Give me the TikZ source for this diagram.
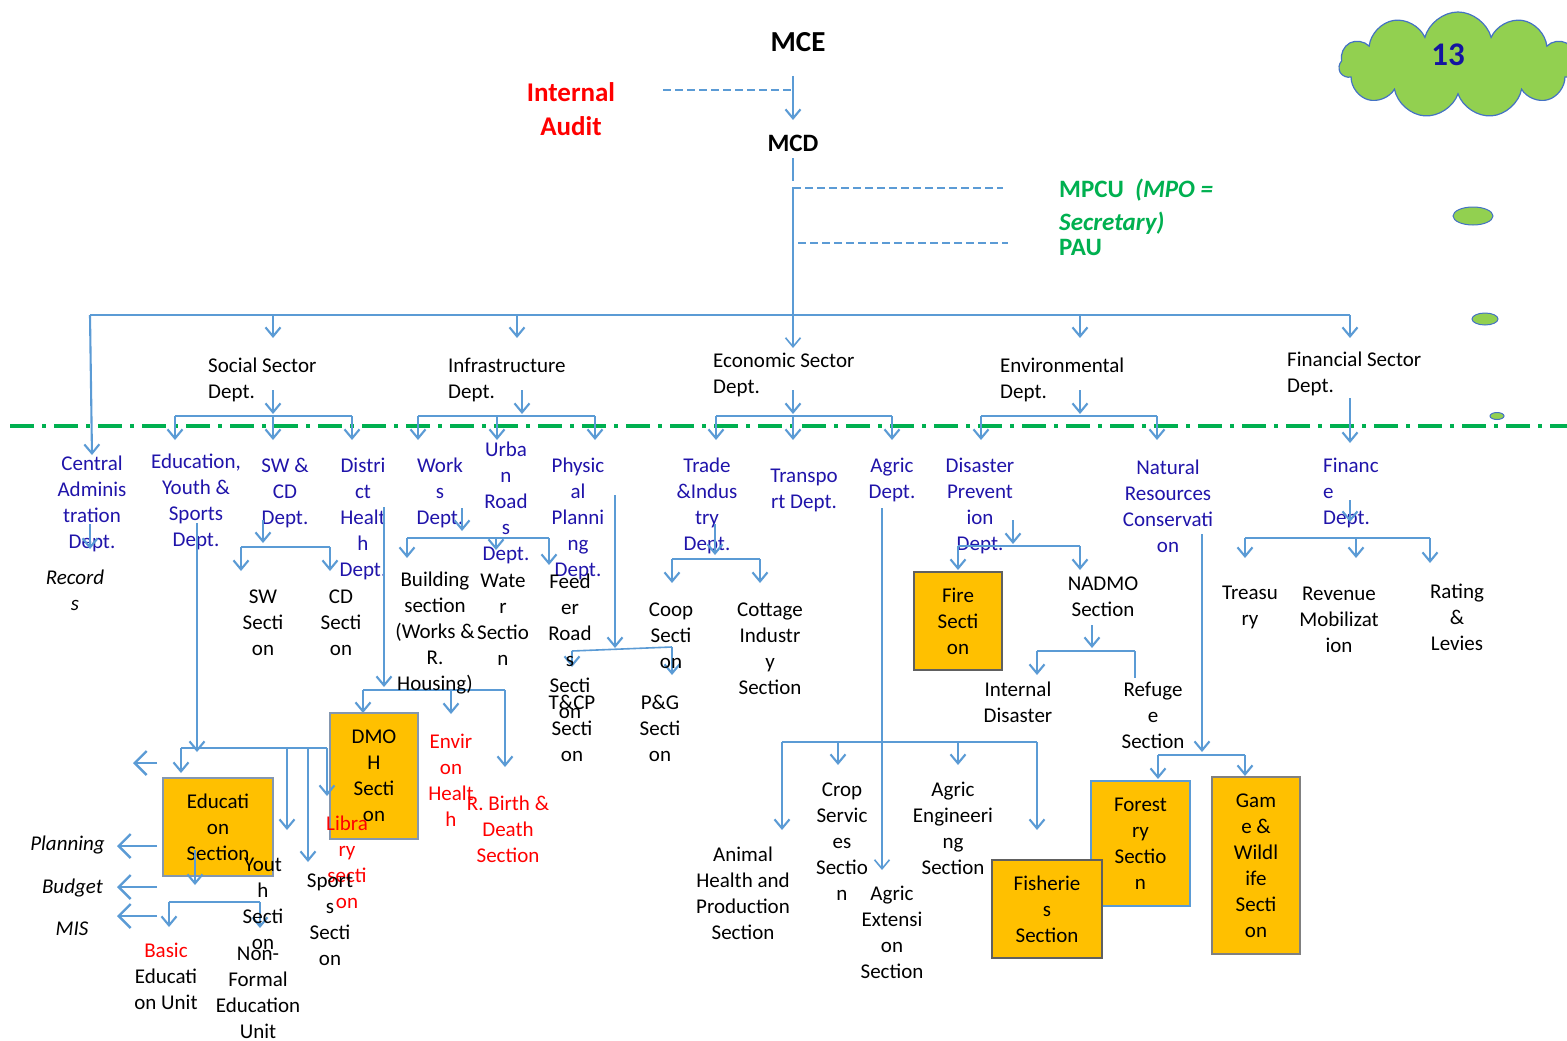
\documentclass[tikz,border=0pt]{standalone}
\usepackage{fontspec}
\setmainfont{Carlito}
\usetikzlibrary{arrows.meta,shapes.geometric,shapes.symbols}
\definecolor{lb}{RGB}{91,155,213}
\definecolor{dblue}{RGB}{32,20,170}
\definecolor{grn}{RGB}{0,176,80}
\definecolor{orng}{RGB}{255,192,0}
\definecolor{gborder}{RGB}{128,128,128}
\definecolor{dgborder}{RGB}{96,96,96}
\definecolor{bgborder}{RGB}{132,151,176}
\definecolor{cloudg}{RGB}{146,208,80}
\definecolor{cloudb}{RGB}{68,114,196}
\definecolor{navy}{RGB}{20,20,160}
\newcommand\fa{\fontsize{21}{26}\selectfont}
\tikzset{
  t/.style={inner sep=0pt, align=center, font=\fa, yshift=-2pt},
  tb/.style={t, text=dblue},
  tr/.style={t, text=red},
  ti/.style={inner sep=0pt, align=center, font=\fa\itshape, yshift=-2pt},
  box/.style={inner sep=0pt, align=center, font=\fa, fill=orng, line width=2pt},
  ln/.style={draw=lb, line width=1.6pt},
  ar/.style={draw=lb, line width=2.1pt, -{Straight Barb[length=9pt,width=15pt]}},
  bigar/.style={draw=lb, line width=2.4pt, -{Straight Barb[length=12pt,width=24pt]}},
  dsh/.style={draw=lb, line width=2.5pt, dash pattern=on 8pt off 4pt},
  gl/.style={draw=grn, line width=4pt, dash pattern=on 24pt off 8pt on 4pt off 8pt},
  blob/.style={ellipse, fill=cloudg, draw=cloudb, line width=1pt, inner sep=0pt}
}
\begin{document}
\begin{tikzpicture}[x=1pt,y=-1pt]
\useasboundingbox (0,0) rectangle (1567,1041);
\fill[white] (0,0) rectangle (1567,1041);

% ---------- coordinates ----------
\foreach \n/\x/\y in {
 iaE/663/90, iaJ/793/90, mceS/793/76, mcdN/793/120, mcdS/793/158, mcdS2/793/181,
 tr0/793/187, ecoN/793/348, mpA/793/188, mpB/1003/188, paA/798/243, paB/1008/243,
 bL/90/315, bR/1350/315, b1/273/315, b2/517/315, b3/1080/315,
 caN/92/455, socN/273/338, infN/517/338, envN/1080/338, finN/1350/338,
 socS/273/390, socJ/273/414, sbL/175/416, sbR/352/416, sbM/273/416, eduN/175/440, swcdN/273/440, dhN/352/440,
 infS/522/390, infJ/522/414, ibL/418/416, ibR/595/416, ibM/497/416, worksN/418/440, urbN/497/440, physN/595/440,
 ecoS/793/390, ecoJ/793/414, ebL/716/416, ebR/892/416, ebM/793/416, tradeN/716/440, transN/793/440, agrN/892/440,
 envS/1080/390, envJ/1080/414, vbL/981/416, vbR/1157/416, disN/981/440, natN/1157/440,
 finS/1350/398, finJ/1350/443,
 caA/90/524, caB/90/549,
 swA/263/520, swB/263/543, swL/241/547, swR/330/547, swsN/241/571, cdsN/330/571,
 dhA/384/507, dhB/384/687, dhL/363/690, dhR/505/690, dhM/451/690, dmohN/363/713, envhN/451/714, birthN/505/767,
 wkA/462/508, wkB/462/531, wkL/407/538, wkR/549/538, wkM/496/538, bldN/407/558, watN/496/550, fdrN/549/565,
 phA/615/495, phB/615/648, phL/572/651, phR/672/647, tcpN/572/667, pgN/672/675,
 tdA/715/524, tdB/715/555, tdL/672/559, tdR/760/559, coopN/672/583, cottN/760/583,
 agA/882/508, agB/882/870, agL/782/742, agR/1037/742, agM/838/742, agE/958/742,
 animN/782/830, cropN/838/765, engN/958/765, fishN/1037/830,
 dsA/1013/520, dsB/1013/544, dsL/958/546, dsR/1080/546, fireN/958/570, nadN/1080/570,
 ndA/1092/625, ndB/1092/648, ndL/1037/651, ndR/1135/651, intN/1037/675, refE/1135/678,
 nrA/1202/534, nrB/1202/752, nrL/1158/755, nrR/1245/755, forN/1158/779, gamN/1245/776,
 fnA/1350/500, fnB/1350/522, fnL/1245/538, fnR/1430/538, fnM/1356/538, treN/1245/558, revN/1356/558, ratN/1430/563,
 edA/197/523, edB/197/752, edL/181/748, edR/327/748, edM/287/748, edM2/308/748,
 eboxN/181/773, youN/287/830, spoN/308/862, libN/327/796,
 laA/157/763, laB/133/763, plA/157/846, plB/117/846, buA/157/887, buB/117/887, miA/157/916, miB/117/916,
 esA/195/850, esB/195/885, esL/169/902, esR/260/902, basN/169/927, nfN/260/928}
 {\coordinate (\n) at (\x,\y);}

% ---------- green dash-dot divider ----------
\coordinate (gA) at (10,426); \coordinate (gB) at (1567,426);
\draw[gl] (gA) -- (gB);

% ---------- cloud and blobs ----------
\node[cloud, cloud puffs=11, aspect=2.3, fill=cloudg, draw=cloudb, line width=1.2pt,
      minimum width=238pt, minimum height=106pt, inner sep=0pt] (cloud) at (1458,65) {};
\node[inner sep=0pt, font=\fontsize{33}{36}\selectfont\bfseries, text=navy] (n13) at (1448,55) {13};
\node[blob, minimum width=40pt, minimum height=18pt] (blob1) at (1473,216) {};
\node[blob, minimum width=26pt, minimum height=12pt] (blob2) at (1485,319) {};
\node[blob, minimum width=14pt, minimum height=7pt] (blob3) at (1497,416) {};

% ---------- top ----------
\node[inner sep=0pt, font=\fontsize{29}{32}\selectfont\bfseries] (mce) at (798,42) {MCE};
\node[inner sep=0pt, align=center, text=red, font=\fontsize{27}{34}\selectfont\bfseries] (audit) at (571,109) {Internal\\Audit};
\node[inner sep=0pt, font=\fontsize{25}{28}\selectfont\bfseries] (mcd) at (793,143) {MCD};
\node[inner sep=0pt, anchor=west, text=grn, font=\fontsize{25}{28}\selectfont\bfseries] (mpcu) at (1059,190) {MPCU \ \textit{(MPO =}};
\node[inner sep=0pt, anchor=west, text=grn, font=\fontsize{25}{28}\selectfont\bfseries\itshape] (secr) at (1059,223) {Secretary)};
\node[inner sep=0pt, anchor=west, text=grn, font=\fontsize{25}{28}\selectfont\bfseries] (pau) at (1059,247) {PAU};

\draw[dsh] (iaE) -- (iaJ);
\draw[ar] (mceS) -- (mcdN);
\draw[draw=lb, line width=1.4pt] (mcdS) -- (mcdS2);
\draw[ar, line width=1.6pt] (tr0) -- (ecoN);
\draw[dsh] (mpA) -- (mpB);
\draw[dsh] (paA) -- (paB);

% ---------- main bar ----------
\draw[ln] (bL) -- (bR);
\draw[ar] (bL) -- (caN);
\draw[ar] (b1) -- (socN);
\draw[ar] (b2) -- (infN);
\draw[ar] (b3) -- (envN);
\draw[ar] (bR) -- (finN);

% ---------- level 1 ----------
\node[t, anchor=west, align=left] (soc) at (208,378) {Social Sector\\Dept.};
\node[t, anchor=west, align=left] (inf) at (448,378) {Infrastructure\\Dept.};
\node[t, anchor=west, align=left] (eco) at (713,373) {Economic Sector\\Dept.};
\node[t, anchor=west, align=left] (env) at (1000,378) {Environmental\\Dept.};
\node[t, anchor=west, align=left] (fin) at (1287,372) {Financial Sector\\Dept.};

\draw[ar] (socS) -- (socJ); \draw[ln] (sbL) -- (sbR);
\draw[ar] (sbL) -- (eduN); \draw[ar] (sbM) -- (swcdN); \draw[ar] (sbR) -- (dhN);
\draw[ar] (infS) -- (infJ); \draw[ln] (ibL) -- (ibR);
\draw[ar] (ibL) -- (worksN); \draw[ar] (ibM) -- (urbN); \draw[ar] (ibR) -- (physN);
\draw[ar] (ecoS) -- (ecoJ); \draw[ln] (ebL) -- (ebR);
\draw[ar] (ebL) -- (tradeN); \draw[ar] (ebM) -- (transN); \draw[ar] (ebR) -- (agrN);
\draw[ar] (envS) -- (envJ); \draw[ln] (vbL) -- (vbR);
\draw[ar] (vbL) -- (disN); \draw[ar] (vbR) -- (natN);
\draw[ar] (finS) -- (finJ);

% ---------- level 2 (departments) ----------
\node[tb] (cadmin) at (92,502) {Central\\Adminis\\tration\\Dept.};
\node[ti] (records) at (75,588) {Record\\s};
\node[tb] (edu) at (196,500) {Education,\\Youth \&\\Sports\\Dept.};
\node[tb] (swcd) at (285,491) {SW \&\\CD\\Dept.};
\node[tb] (dh) at (363,517) {Distri\\ct\\Healt\\h\\Dept.};
\node[tb] (works) at (440,491) {Work\\s\\Dept.};
\node[tb] (urban) at (506,501) {Urba\\n\\Road\\s\\Dept.};
\node[tb] (phys) at (578,517) {Physic\\al\\Planni\\ng\\Dept.};
\node[tb] (trade) at (707,504) {Trade\\\&Indus\\try\\Dept.};
\node[tb] (transp) at (804,488) {Transpo\\rt Dept.};
\node[tb] (agric) at (892,478) {Agric\\Dept.};
\node[tb] (disaster) at (980,504) {Disaster\\Prevent\\ion\\Dept.};
\node[tb] (natres) at (1168,504) {Natural\\Resources\\Conservati\\on};
\node[tb, anchor=west, align=left] (finance) at (1323,491) {Financ\\e\\Dept.};

% ---------- level 2 -> 3 connectors ----------
\draw[ar] (caA) -- (caB);
\draw[ar] (swA) -- (swB); \draw[ln] (swL) -- (swR);
\draw[ar] (swL) -- (swsN); \draw[ar] (swR) -- (cdsN);
\draw[ar] (dhA) -- (dhB); \draw[ln] (dhL) -- (dhR);
\draw[ar] (dhL) -- (dmohN); \draw[ar] (dhM) -- (envhN); \draw[ar] (dhR) -- (birthN);
\draw[ar] (wkA) -- (wkB); \draw[ln] (wkL) -- (wkR);
\draw[ar] (wkL) -- (bldN); \draw[ar] (wkM) -- (watN); \draw[ar] (wkR) -- (fdrN);
\draw[ar] (phA) -- (phB); \draw[ln] (phL) -- (phR);
\draw[ar] (phL) -- (tcpN); \draw[ar] (phR) -- (pgN);
\draw[ar] (tdA) -- (tdB); \draw[ln] (tdL) -- (tdR);
\draw[ar] (tdL) -- (coopN); \draw[ar] (tdR) -- (cottN);
\draw[ar, line width=1.6pt] (agA) -- (agB); \draw[ln] (agL) -- (agR);
\draw[ar] (agL) -- (animN); \draw[ar] (agM) -- (cropN); \draw[ar] (agE) -- (engN); \draw[ar] (agR) -- (fishN);
\draw[ar] (dsA) -- (dsB); \draw[ln] (dsL) -- (dsR);
\draw[ar] (dsL) -- (fireN); \draw[ar] (dsR) -- (nadN);
\draw[ar] (ndA) -- (ndB); \draw[ln] (ndL) -- (ndR);
\draw[ar] (ndL) -- (intN); \draw[ln] (ndR) -- (refE);
\draw[ar] (nrA) -- (nrB); \draw[ln] (nrL) -- (nrR);
\draw[ar] (nrL) -- (forN); \draw[ar] (nrR) -- (gamN);
\draw[ar] (fnA) -- (fnB); \draw[ln] (fnL) -- (fnR);
\draw[ar] (fnL) -- (treN); \draw[ar] (fnM) -- (revN); \draw[ar] (fnR) -- (ratN);

% ---------- level 3 ----------
\node[t] (swsec) at (263,621) {SW\\Secti\\on};
\node[t] (cdsec) at (341,621) {CD\\Secti\\on};
\node[t] (building) at (435,631) {Building\\section\\(Works \&\\R.\\Housing)};
\node[t] (water) at (503,618) {Wate\\r\\Sectio\\n};
\node[t] (feeder) at (570,644) {Feed\\er\\Road\\s\\Secti\\on};
\node[t] (tcp) at (572,726) {T\&CP\\Secti\\on};
\node[t] (pg) at (660,726) {P\&G\\Secti\\on};
\node[t] (coop) at (671,634) {Coop\\Secti\\on};
\node[t] (cottage) at (770,647) {Cottage\\Industr\\y\\Section};
\node[box, draw=dgborder, minimum width=88pt, minimum height=98pt] (fire) at (958,621) {Fire\\Secti\\on};
\node[t] (nadmo) at (1103,595) {NADMO\\Section};
\node[t] (intdis) at (1018,700) {Internal\\Disaster};
\node[t] (refugee) at (1153,713) {Refuge\\e\\Section};
\node[t] (treasury) at (1250,605) {Treasu\\ry};
\node[t] (revenue) at (1339,618) {Revenue\\Mobilizat\\ion};
\node[t] (rating) at (1457,615) {Rating\\\&\\Levies};

% agric sections
\node[t] (animal) at (743,891) {Animal\\Health and\\Production\\Section};
\node[t] (crop) at (842,840) {Crop\\Servic\\es\\Sectio\\n};
\node[t] (agext) at (892,930) {Agric\\Extensi\\on\\Section};
\node[t] (ageng) at (953,826) {Agric\\Engineeri\\ng\\Section};
\node[box, draw=lb, minimum width=99pt, minimum height=125pt] (forest) at (1140.5,843.5) {Forest\\ry\\Sectio\\n};
\node[box, draw=dgborder, minimum width=110pt, minimum height=98pt] (fish) at (1047,909) {Fisherie\\s\\Section};
\node[box, draw=gborder, minimum width=88pt, minimum height=177pt] (game) at (1256,865.5) {Gam\\e \&\\Wildl\\ife\\Secti\\on};

% health / education
\node[box, draw=bgborder, minimum width=88pt, minimum height=126pt] (dmoh) at (374,776) {DMO\\H\\Secti\\on};
\node[tr] (envh) at (451,778) {Envir\\on\\Healt\\h};
\node[tr] (birth) at (508,827) {R. Birth \&\\Death\\Section};
\node[box, draw=bgborder, minimum width=110pt, minimum height=98pt] (edubox) at (218,827) {Educati\\on\\Section};

\draw[ar] (edA) -- (edB); \draw[ln] (edL) -- (edR);
\draw[ar] (edL) -- (eboxN); \draw[ar] (edM) -- (youN); \draw[ar] (edM2) -- (spoN); \draw[ar] (edR) -- (libN);
\draw[bigar] (laA) -- (laB);
\draw[bigar] (plA) -- (plB);
\draw[bigar] (buA) -- (buB);
\draw[bigar] (miA) -- (miB);
\draw[ar] (esA) -- (esB); \draw[ln] (esL) -- (esR);
\draw[ar] (esL) -- (basN); \draw[ar] (esR) -- (nfN);

\node[tr] (library) at (347,860) {Libra\\ry\\secti\\on};
\node[t] (youth) at (263,902) {Yout\\h\\Secti\\on};
\node[t] (sports) at (330,918) {Sport\\s\\Secti\\on};
\node[t] (basic) at (166,974) {\textcolor{red}{Basic}\\Educati\\on Unit};
\node[t] (nonformal) at (258,991) {Non-\\Formal\\Education\\Unit};
\node[ti, anchor=east] (planning) at (105,843) {Planning};
\node[ti, anchor=east] (budget) at (103,886) {Budget};
\node[ti] (mis) at (72,927) {MIS};
\end{tikzpicture}
\end{document}
